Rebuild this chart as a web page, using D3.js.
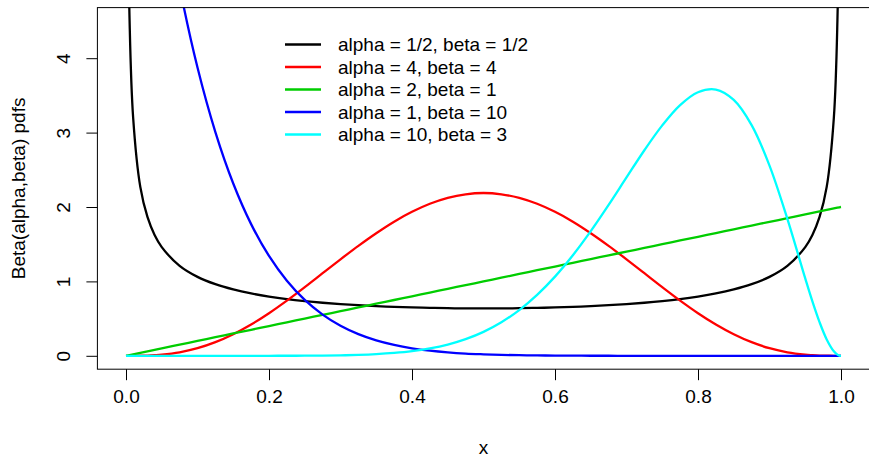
<!DOCTYPE html>
<html>
<head>
<meta charset="utf-8">
<script src="https://cdn.jsdelivr.net/npm/d3@7"></script>
<style>
  body { margin: 0; background: #fff; }
  svg { display: block; font-family: "Liberation Sans", Arial, sans-serif; }
</style>
</head>
<body>
<div id="chart"></div>
<script>
// x grid shared by all curves
var xs = [0, 0.002, 0.005, 0.01, 0.02, 0.03, 0.04, 0.05, 0.075, 0.1, 0.125, 0.15, 0.175, 0.2,
  0.225, 0.25, 0.275, 0.3, 0.325, 0.35, 0.375, 0.4, 0.425, 0.45, 0.475, 0.5, 0.525, 0.55,
  0.575, 0.6, 0.625, 0.65, 0.675, 0.7, 0.725, 0.75, 0.775, 0.8, 0.825, 0.85, 0.875, 0.9,
  0.925, 0.95, 0.96, 0.97, 0.98, 0.99, 0.995, 0.998, 1];

// alpha = 1/2, beta = 1/2 (runs off the top at both ends)
var blackVals = [null, 7.12, 4.51, 3.20, 2.27, 1.866, 1.624, 1.461, 1.209, 1.061, 0.963, 0.892, 0.838, 0.796,
  0.762, 0.735, 0.713, 0.695, 0.680, 0.667, 0.658, 0.650, 0.644, 0.640, 0.637, 0.637, 0.637, 0.640,
  0.644, 0.650, 0.658, 0.667, 0.680, 0.695, 0.713, 0.735, 0.762, 0.796, 0.838, 0.892, 0.963, 1.061,
  1.209, 1.461, 1.624, 1.866, 2.27, 3.20, 4.51, 7.12, null];
// alpha = 4, beta = 4
var redVals = [0, 0, 0, 0.0001, 0.001, 0.003, 0.008, 0.015, 0.047, 0.102, 0.183, 0.290, 0.421, 0.573,
  0.742, 0.923, 1.110, 1.297, 1.478, 1.648, 1.803, 1.935, 2.043, 2.123, 2.171, 2.188, 2.171, 2.123,
  2.043, 1.935, 1.803, 1.648, 1.478, 1.297, 1.110, 0.923, 0.742, 0.573, 0.421, 0.290, 0.183, 0.102,
  0.047, 0.015, 0.008, 0.003, 0.001, 0.0001, 0, 0, 0];
// alpha = 2, beta = 1
var greenVals = [0, 0.004, 0.01, 0.02, 0.04, 0.06, 0.08, 0.1, 0.15, 0.2, 0.25, 0.3, 0.35, 0.4,
  0.45, 0.5, 0.55, 0.6, 0.65, 0.7, 0.75, 0.8, 0.85, 0.9, 0.95, 1.0, 1.05, 1.1,
  1.15, 1.2, 1.25, 1.3, 1.35, 1.4, 1.45, 1.5, 1.55, 1.6, 1.65, 1.7, 1.75, 1.8,
  1.85, 1.9, 1.92, 1.94, 1.96, 1.98, 1.99, 1.996, 2.0];
// alpha = 1, beta = 10
var blueVals = [10, 9.82, 9.56, 9.14, 8.34, 7.60, 6.93, 6.30, 4.96, 3.874, 3.007, 2.316, 1.770, 1.342,
  1.009, 0.751, 0.554, 0.404, 0.291, 0.207, 0.146, 0.101, 0.069, 0.046, 0.030, 0.020, 0.012, 0.008,
  0.005, 0.003, 0.0015, 0.0008, 0.0004, 0.0002, 0.0001, 0, 0, 0, 0, 0, 0, 0,
  0, 0, 0, 0, 0, 0, 0, 0, 0];
// alpha = 10, beta = 3
var cyanVals = [0, 0, 0, 0, 0, 0, 0, 0, 0, 0, 0, 0, 0, 0.0002,
  0.0006, 0.0014, 0.003, 0.006, 0.012, 0.022, 0.038, 0.062, 0.099, 0.151, 0.224, 0.322, 0.451, 0.615,
  0.819, 1.064, 1.351, 1.675, 2.028, 2.397, 2.763, 3.097, 3.370, 3.543, 3.579, 3.440, 3.101, 2.557,
  1.841, 1.040, 0.731, 0.452, 0.220, 0.060, 0.016, 0.003, 0];

var seriesNames = ["alpha = 1/2, beta = 1/2", "alpha = 4, beta = 4", "alpha = 2, beta = 1",
  "alpha = 1, beta = 10", "alpha = 10, beta = 3"];
var seriesColors = ["#000000", "#ff0000", "#00cd00", "#0000ff", "#00ffff"];
var seriesVals = [blackVals, redVals, greenVals, blueVals, cyanVals];

var xTicks = [0, 0.2, 0.4, 0.6, 0.8, 1.0];
var yTicks = [0, 1, 2, 3, 4];

var width = 869, height = 458;
var fontSize = 19;

var x = d3.scaleLinear().domain([0, 1]).range([126, 841]);
var y = d3.scaleLinear().domain([0, 4]).range([355.8, 58.2]);

// plot region, R style 4% padding
var boxLeft = x(-0.04), boxRight = x(1.04), boxTop = y(4.68), boxBottom = y(-0.18);

var svg = d3.select("#chart").append("svg")
  .attr("width", width)
  .attr("height", height)
  .style("font-size", fontSize + "px");

svg.append("clipPath").attr("id", "plotclip")
  .append("rect")
  .attr("x", boxLeft).attr("y", boxTop)
  .attr("width", boxRight - boxLeft).attr("height", boxBottom - boxTop);

var line = d3.line()
  .defined(function(d) { return d[1] != null; })
  .x(function(d) { return x(d[0]); })
  .y(function(d) { return y(d[1]); })
  .curve(d3.curveCatmullRom.alpha(0.5));

var curves = svg.append("g").attr("clip-path", "url(#plotclip)");
seriesVals.forEach(function(vals, i) {
  var pts = xs.map(function(xv, j) { return [xv, vals[j]]; });
  curves.append("path")
    .attr("d", line(pts))
    .attr("fill", "none")
    .attr("stroke", seriesColors[i])
    .attr("stroke-width", 2.3)
    .attr("stroke-linejoin", "round");
});

// box
svg.append("rect")
  .attr("x", boxLeft).attr("y", boxTop)
  .attr("width", boxRight - boxLeft).attr("height", boxBottom - boxTop)
  .attr("fill", "none")
  .attr("stroke", "#000")
  .attr("stroke-width", 1);

// x axis
var xAxis = d3.axisBottom(x).tickValues(xTicks).tickFormat(d3.format(".1f"))
  .tickSize(11).tickPadding(9);
var gx = svg.append("g").attr("transform", "translate(0," + boxBottom + ")").call(xAxis);
gx.select(".domain").remove();
gx.selectAll("text").style("font-size", fontSize + "px")
  .style("font-family", "Liberation Sans, Arial, sans-serif").attr("fill", "#000");

// y axis
var yAxis = d3.axisLeft(y).tickValues(yTicks).tickFormat(d3.format("d")).tickSize(11);
var gy = svg.append("g").attr("transform", "translate(" + boxLeft + ",0)").call(yAxis);
gy.select(".domain").remove();
gy.selectAll(".tick text")
  .attr("x", null).attr("dy", null)
  .attr("text-anchor", "middle")
  .attr("transform", "translate(-27,0) rotate(-90)")
  .style("font-size", fontSize + "px")
  .style("font-family", "Liberation Sans, Arial, sans-serif")
  .attr("fill", "#000");

// axis titles
svg.append("text")
  .attr("x", (x(0) + x(1)) / 2).attr("y", 454)
  .attr("text-anchor", "middle")
  .text("x");
svg.append("text")
  .attr("transform", "translate(25," + ((boxTop + boxBottom) / 2) + ") rotate(-90)")
  .attr("text-anchor", "middle")
  .text("Beta(alpha,beta) pdfs");

// legend
var legend = svg.append("g");
seriesNames.forEach(function(name, i) {
  var ly = 44.5 + i * 22.5;
  legend.append("line")
    .attr("x1", 285).attr("x2", 321)
    .attr("y1", ly).attr("y2", ly)
    .attr("stroke", seriesColors[i])
    .attr("stroke-width", 2.3);
  legend.append("text")
    .attr("x", 338).attr("y", ly + 6.5)
    .text(name);
});
</script>
</body>
</html>
